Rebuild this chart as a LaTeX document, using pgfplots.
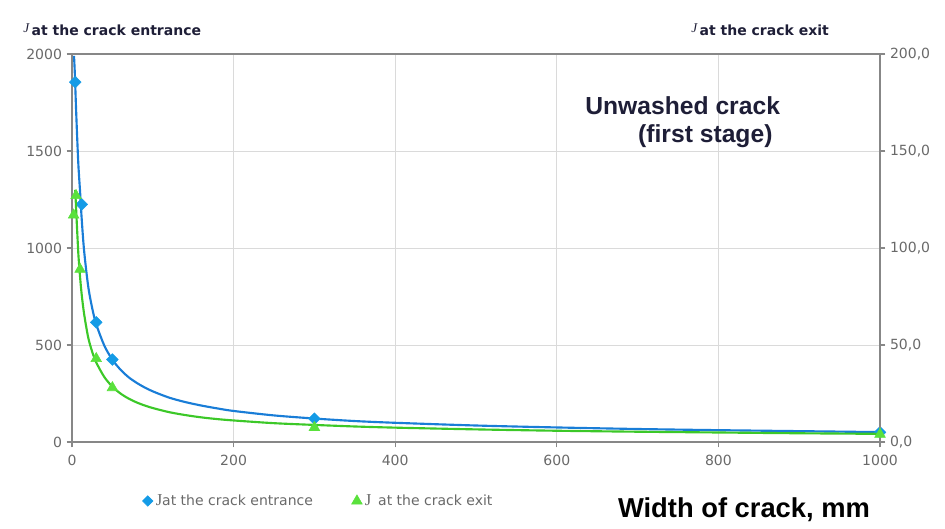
\documentclass[border=0pt]{standalone}
\usepackage{pgfplots}
\pgfplotsset{compat=1.18}
\usepackage{fontspec}
\setmainfont{Liberation Sans}
\newfontfamily\tickfont{DejaVu Sans}
\newfontfamily\serifJ{Liberation Serif}
\definecolor{bl}{RGB}{25,125,215}
\definecolor{blm}{RGB}{20,155,230}
\definecolor{gr}{RGB}{60,200,40}
\definecolor{grm}{RGB}{90,225,60}
\definecolor{gridc}{RGB}{218,218,218}
\definecolor{axc}{RGB}{135,135,135}
\definecolor{tickc}{RGB}{105,105,105}
\definecolor{ttl}{RGB}{30,30,55}

\begin{document}
\begin{tikzpicture}
\useasboundingbox (0,0) rectangle (708.75pt,396pt);
\pgfplotsset{every axis/.append style={
  scale only axis, width=606pt, height=291pt,
  at={(54pt,64.5pt)}, anchor=south west,
  xmin=0, xmax=1000, clip=false,
  tick label style={font=\tickfont\fontsize{10.5}{12}\selectfont, text=tickc},
  /pgf/number format/assume math mode=true,
  /pgf/number format/1000 sep={},
  tick style={axc, line width=0.8pt},
  major tick length=4pt,
  tick align=outside,
}}

\begin{axis}[
  ymin=0, ymax=2000,
  xtick={0,200,400,600,800,1000},
  ytick={0,500,1000,1500,2000},
  xtick pos=left, ytick pos=left,
  axis line style={axc, line width=1.1pt},
  grid=major, major grid style={gridc, line width=0.6pt},
  xticklabel style={yshift=-2pt},
]
% trend line, J at the crack entrance
\addplot[bl, line width=1.6pt, smooth, tension=0.5, forget plot] coordinates {
 (2.5,1990) (3.5,1900) (5,1720) (6.5,1560) (8,1420) (10,1290) (12,1150)
 (15,985) (20,804) (25,690) (30,607) (40,497) (50,424) (60,373) (70,334)
 (80,305) (90,281) (100,261) (120,229) (140,206) (160,188) (180,173)
 (200,160) (250,137) (300,121) (350,108) (400,99) (500,85) (600,75)
 (700,67) (800,61) (900,56) (1000,51)};
\addplot[only marks, mark=square*, mark size=3.1pt, mark options={rotate=45}, blm, forget plot] coordinates {
 (4,1855) (12,1225) (30,617) (50,425) (300,120) (1000,50)};
\end{axis}

\begin{axis}[
  ymin=0, ymax=200,
  axis x line=none,
  axis y line*=right,
  axis line style={axc, line width=1.1pt},
  ytick={0,50,100,150,200},
  yticklabel style={/pgf/number format/.cd, fixed, fixed zerofill, precision=1, use comma},
  legend style={at={(0.082,-0.152)}, anchor=west, draw=none, fill=none,
    font=\tickfont\fontsize{10.5}{12}\selectfont, text=tickc,
    legend cell align=left, /tikz/every even column/.append style={column sep=27pt}},
  legend columns=2,
]
\addlegendimage{only marks, mark=square*, mark size=2.8pt, mark options={rotate=45}, blm}
\addlegendentry{{\serifJ\fontsize{12.5}{12}\selectfont J}at the crack entrance}
% trend line, J at the crack exit
\addplot[gr, line width=1.6pt, smooth, tension=0.5, forget plot] coordinates {
 (4,130) (5,121) (6.5,108) (8,96) (10,85) (12,76) (15,66) (20,54) (25,46.5)
 (30,41) (40,33.5) (50,28.5) (60,25) (70,22.4) (80,20.4) (90,18.8)
 (100,17.5) (120,15.4) (140,13.9) (160,12.7) (180,11.8) (200,11.1)
 (250,9.7) (300,8.8) (350,8.0) (400,7.4) (500,6.5) (600,5.8) (700,5.3)
 (800,4.9) (900,4.5) (1000,4.2)};
\addplot[only marks, mark=triangle*, mark size=4.6pt, grm] coordinates {
 (2,117) (5,127) (10,89) (30,43) (50,28) (300,7.5) (1000,4)};
\addlegendentry{{\serifJ\fontsize{12.5}{12}\selectfont J}\ \,at the crack exit}
\end{axis}

\node[anchor=west, text=ttl, font=\tickfont\bfseries\fontsize{10.5}{12}\selectfont] at (14pt,373.5pt)
  {\raisebox{2.5pt}{\serifJ\mdseries\itshape\fontsize{10}{10}\selectfont J}\,at the crack entrance};
\node[anchor=west, text=ttl, font=\tickfont\bfseries\fontsize{10.5}{12}\selectfont] at (515pt,373.5pt)
  {\raisebox{2.5pt}{\serifJ\mdseries\itshape\fontsize{10}{10}\selectfont J}\,at the crack exit};
\node[anchor=center, text=ttl, font=\bfseries\fontsize{18.5}{20}\selectfont] at (512pt,316.5pt) {Unwashed crack};
\node[anchor=center, text=ttl, font=\bfseries\fontsize{18.5}{20}\selectfont] at (529pt,294pt) {(first stage)};
\node[anchor=west, text=black, font=\bfseries\fontsize{20.5}{22}\selectfont] at (460pt,13.5pt) {Width of crack, mm};
\end{tikzpicture}
\end{document}
